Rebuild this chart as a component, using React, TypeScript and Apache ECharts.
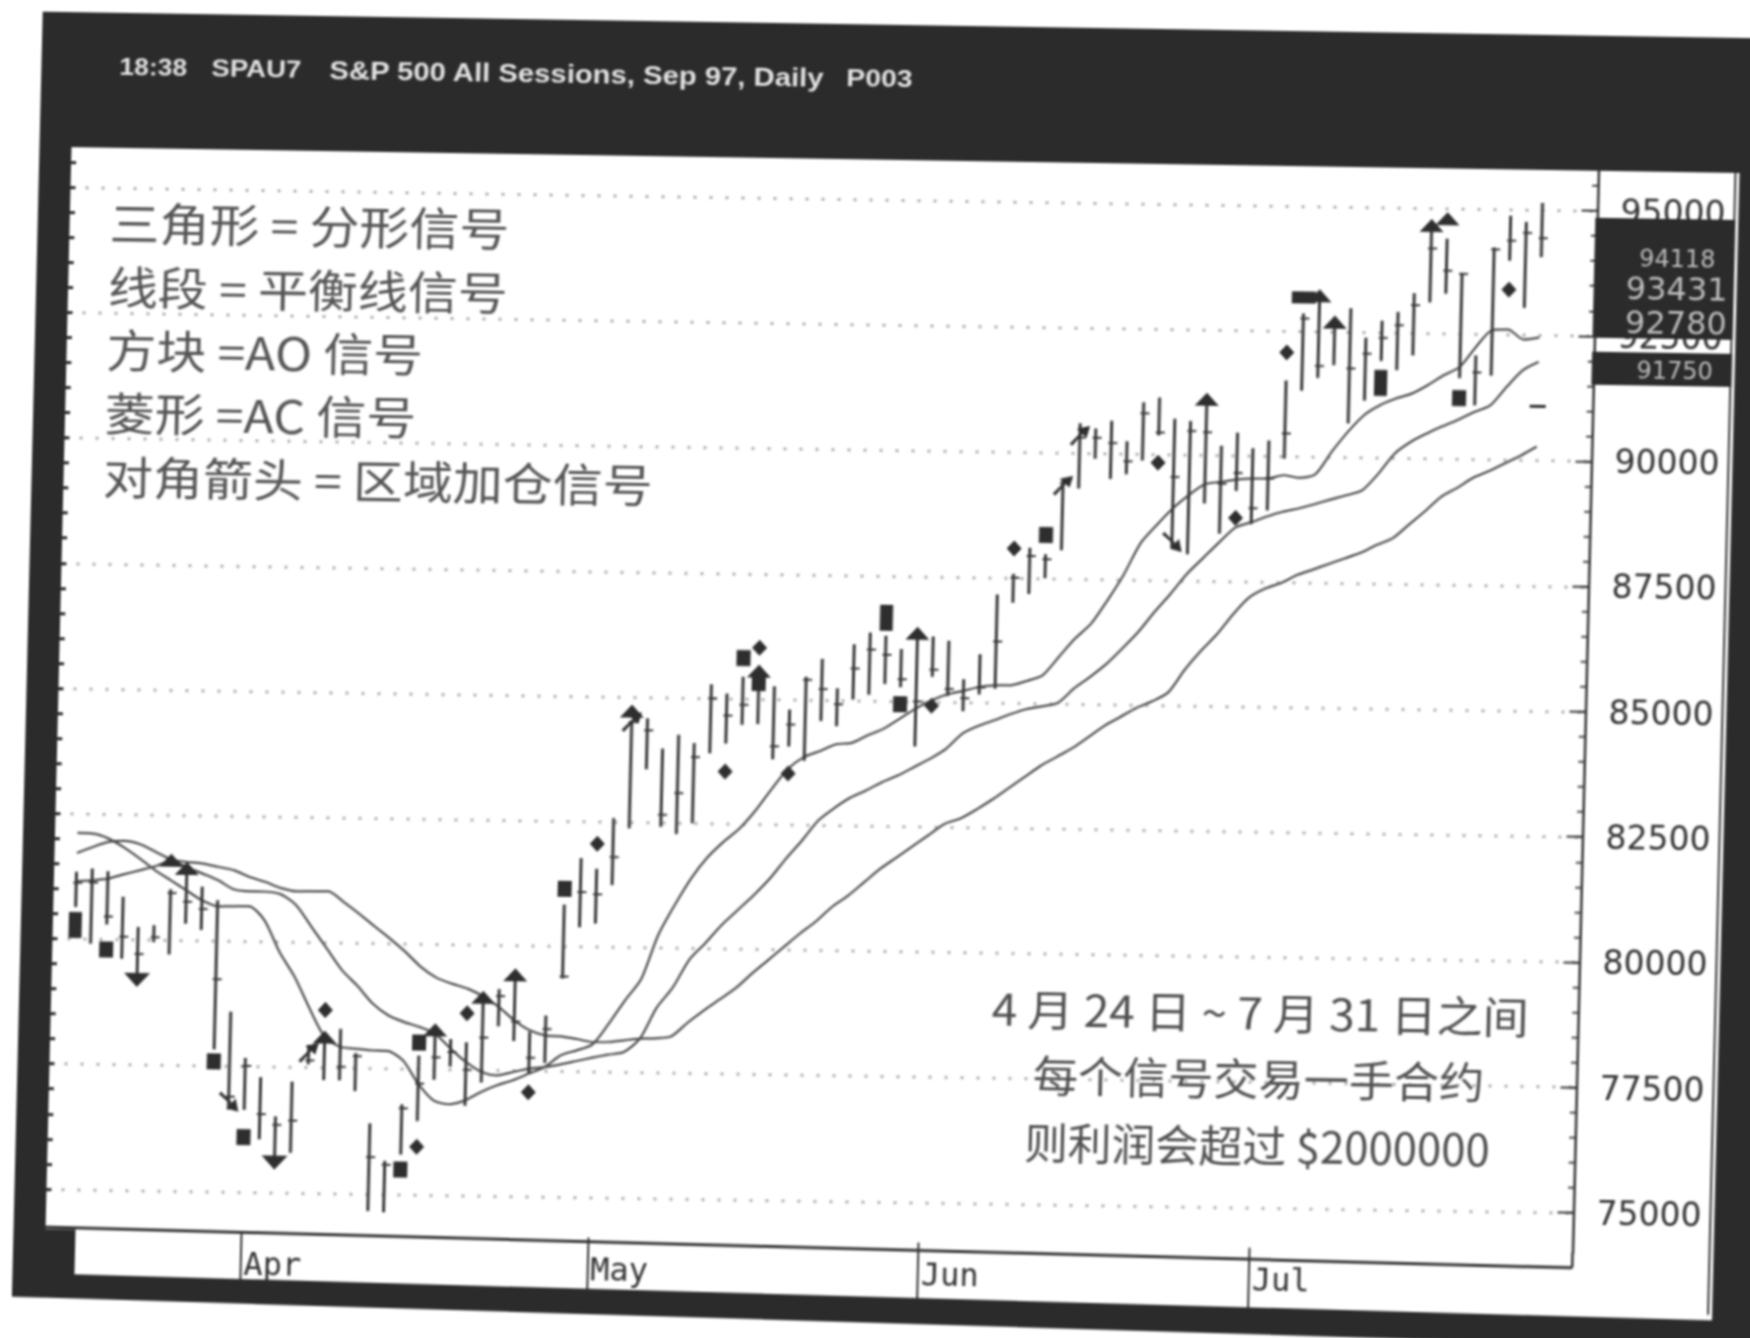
import React, { useEffect, useRef } from "react";
import * as echarts from "echarts";

const categories = [
  "03-12","03-13","03-14","03-17","03-18","03-19","03-20","03-21","03-24","03-25","03-26","03-27","03-31",
  "04-01","04-02","04-03","04-04","04-07","04-08","04-09","04-10","04-11","04-14","04-15","04-16","04-17","04-18","04-21","04-22","04-23","04-24","04-25","04-28","04-29","04-30",
  "05-01","05-02","05-05","05-06","05-07","05-08","05-09","05-12","05-13","05-14","05-15","05-16","05-19","05-20","05-21","05-22","05-23","05-27","05-28","05-29","05-30",
  "06-02","06-03","06-04","06-05","06-06","06-09","06-10","06-11","06-12","06-13","06-16","06-17","06-18","06-19","06-20","06-23","06-24","06-25","06-26","06-27","06-30",
  "07-01","07-02","07-03","07-07","07-08","07-09","07-10","07-11","07-14","07-15","07-16","07-17","07-18","07-21","07-22","07-23","07-24","07-25","07-28","07-29","07-30",
];
const monthStarts: Record<string, string> = { "04-01": "Apr", "05-01": "May", "06-02": "Jun", "07-01": "Jul" };
const priceLabels = [75000, 77500, 80000, 82500, 85000, 87500, 90000, 92500, 95000];
const minorTicks = [
  75000,75500,76000,76500,77000,77500,78000,78500,79000,79500,80000,80500,81000,81500,82000,82500,83000,83500,84000,84500,
  85000,85500,86000,86500,87000,87500,88000,88500,89000,89500,90000,90500,91000,91500,92000,92500,93000,93500,94000,94500,95000,95500,
];

const firstIndex = 2;
const highs = [81340,81410,81360,80860,80260,80300,81020,81440,81080,80820,78600,77680,77300,76520,77220,77960,78140,78290,77810,76410,75670,76800,77780,78330,78120,78060,78970,79130,79380,78290,78620,80840,81770,81560,82580,84520,84580,83980,84260,84100,85280,85100,85440,85420,85260,84800,85460,85820,85240,86120,86360,86300,86040,86300,86300,86220,85460,85960,87160,87580,88100,87980,89460,90600,90500,90660,90260,91040,91140,90720,90680,91100,90200,90460,90160,90320,91520,92860,93160,92640,92980,92400,92740,92920,93300,94700,94400,93720,92080,94240,94880,94760,95140];
const lows = [80640,79910,80300,79620,79320,79960,79720,80340,80220,77840,76640,76640,76060,75690,75800,77570,77260,77260,77050,74660,74640,75800,76470,77300,77570,76790,77260,78390,78100,77460,77670,79360,80390,80470,81240,82380,83560,82420,82280,82500,83900,84100,84480,84500,83800,84060,83780,84580,84480,85020,85120,85340,85280,84100,85500,85120,84820,85160,85280,87000,87180,87500,88060,89300,89900,89500,89600,89880,90380,88140,88020,89040,88440,89300,88640,88920,89960,91320,91580,91840,90680,91140,91940,91760,92060,93120,93300,91620,91080,91680,93980,93040,94060];
const closes = [81120,81130,80460,80060,79720,80060,80950,80780,80640,79240,76900,77520,76560,76350,76440,77650,78080,77530,77750,75740,75590,76720,77220,77750,77860,77510,78160,78990,78490,77770,78350,79400,81090,81050,81800,84500,84340,82660,83100,83820,85000,84660,84880,85320,84060,84500,85400,85220,84920,85640,86020,85920,85440,85000,85640,85260,85080,85300,86220,87500,87940,87880,89400,90320,90320,90220,89860,90820,90440,89560,90480,90460,89440,89660,88960,89560,90460,92760,91820,92600,91780,92080,92400,92660,93060,94200,93760,93700,91740,94200,94380,94540,94440];

const lips = [82116,82108,82013,81837,81623,81395,81200,81006,80811,80697,80702,80707,80431,79804,79310,78683,78122,77928,77898,77869,77861,77680,77219,76890,76816,76900,77072,77210,77315,77453,77590,77828,77932,78057,78475,78945,79383,80255,80859,81396,81820,82138,82409,82779,83216,83620,83858,83983,84121,84153,84310,84448,84653,84857,85029,85153,85225,85309,85347,85352,85444,85562,85933,86304,86607,87078,87600,88221,88592,88930,89201,89424,89476,89527,89552,89557,89629,89581,89659,90110,90514,90852,91056,91194,91298,91470,91674,91845,92250,92587,92605,92410,92455];
const teeth = [81717,81842,81947,81971,81909,81761,81613,81472,81344,81215,81041,81005,81003,80955,80740,80313,79886,79458,79150,78801,78573,78445,78350,78221,77927,77665,77471,77409,77481,77552,77590,77648,77719,77791,77856,77914,78185,78800,79212,79770,80110,80474,80779,81082,81420,81824,82195,82599,82850,83062,83213,83384,83522,83693,83864,84069,84373,84530,84649,84773,84878,84943,85015,85306,85542,85800,86118,86456,86860,87230,87630,87950,88270,88570,88680,88800,88900,88970,89060,89158,89249,89353,89691,90095,90333,90504,90655,90793,90951,91088,91459,91797,91968];
const jaw = [81152,81176,81215,81305,81390,81475,81600,81571,81543,81482,81420,81291,81196,81081,81020,81025,81030,80822,80593,80344,80103,79842,79548,79339,79224,79129,78981,78773,78512,78318,78222,78207,78159,78104,78109,78147,78185,78196,78244,78518,78767,78994,79222,79518,79789,80062,80334,80584,80878,81106,81379,81652,81879,82108,82335,82563,82679,82862,83068,83296,83523,83751,83934,84117,84345,84573,84756,84939,85078,85261,85712,86096,86435,86841,87180,87363,87480,87641,87756,87874,87989,88105,88266,88405,88677,88950,89244,89428,89633,89772,89933,90094,90277];

const aoSquares = [[4,79800],[11,77600],[13,76100],[23,75500],[24,78040],[33,81150],[44,85810],[45,85320],[54,84940],[63,88360],[89,91220]];
const aoTall = [[2,80280],[53,86660],[84,91500]];
const aoWide = [[79,93180]];
const acDiamonds = [[18,78660],[24,75960],[27,78640],[31,77080],[35,82060],[43,83540],[45,86020],[47,83520],[56,84920],[61,88080],[70,89840],[75,88760],[78,92080],[92,93400]];
const fractalUp = [[8,81600],[9,81440],[18,78120],[25,78300],[28,78960],[30,79420],[37,84720],[45,85560],[55,86360],[73,91120],[80,93220],[81,92700],[87,94660],[88,94800]];
const fractalDown = [[6,79200],[15,75600]];
const arrowsUp = [[17,77800],[37,84500],[64,89350],[65,90350]];
const arrowsDown = [[12,76800],[71,88260]];
const strayDash = [[94,91080]];

const legendLines = ["三角形 = 分形信号", "线段 = 平衡线信号", "方块 =AO 信号", "菱形 =AC 信号", "对角箭头 = 区域加仓信号"];
const noteLines = ["4 月 24 日 ~ 7 月 31 日之间", "每个信号交易一手合约", "则利润会超过 $2000000"];
const noteStretch = [1.07, 1.05, 1.015];
const quoteRows = ["94118", "93431", "92780", "91750"];

const INK = "#2e2e2e";
const FRAME = "#2b2b2b";
const ARROW = "path://M0 24 L13 9 L8 4 L24 0 L20 16 L15 11 L3 27Z";

const rect = (x: number, y: number, width: number, height: number, fill: string, z = 100) => ({
  type: "rect", silent: true, z, shape: { x, y, width, height }, style: { fill },
});
const label = (text: string, x: number, y: number, font: string, fill: string, textAlign = "left", scaleX = 1) => ({
  type: "text", silent: true, z: 110, x, y, scaleX,
  style: { text, font, fill, textAlign, textVerticalAlign: "middle", verticalAlign: "middle" },
});

const pairs = (values: number[]) => values.map((v, k) => [k + firstIndex, v]);
const lineSeries = (name: string, values: number[]) => ({
  type: "line", name, data: pairs(values), showSymbol: false, z: 3, smooth: 0.25,
  lineStyle: { color: "#4a4a4a", width: 2.2 },
});
const marks = (data: number[][], symbol: string, symbolSize: any, rotate = 0) => ({
  type: "scatter", data, symbol, symbolSize, symbolRotate: rotate, z: 5,
  itemStyle: { color: INK, opacity: 1 },
});

export default function App() {
  const ref = useRef<HTMLDivElement>(null);
  useEffect(() => {
    document.body.style.margin = "0";
    document.body.style.overflow = "hidden";
    const chart = echarts.init(ref.current!, null, { renderer: "svg" });
    const bars = highs.map((h, k) => [k + firstIndex, h, lows[k], closes[k]]);
    const sharedY = { type: "value", min: 74200, max: 95800, scale: true };
    const titleFont = 'bold 23px "Liberation Sans"';
    chart.setOption({
      animation: false,
      backgroundColor: "#ffffff",
      grid: { left: 58, right: 198, top: 146, bottom: 112, outerBoundsMode: "none", containLabel: false },
      xAxis: {
        type: "category", data: categories, boundaryGap: true,
        axisLine: { show: false },
        axisTick: {
          show: true, alignWithLabel: true, length: 66, lineStyle: { color: "#333", width: 2 },
          interval: (_: number, v: string) => v in monthStarts,
        },
        axisLabel: {
          interval: (_: number, v: string) => v in monthStarts,
          formatter: (v: string) => monthStarts[v] ?? "",
          align: "left", padding: [0, 0, 0, 3], margin: 16, color: "#333",
          fontFamily: "DejaVu Sans Mono", fontSize: 32,
        },
        splitLine: { show: false },
      },
      yAxis: [
        {
          ...sharedY, position: "right",
          axisLine: { show: true, lineStyle: { color: "#333", width: 2.5 } },
          axisTick: { show: true, inside: true, length: 6, customValues: minorTicks, lineStyle: { color: "#444", width: 2 } },
          axisLabel: { show: false },
          splitLine: { show: false },
        },
        {
          ...sharedY, position: "right",
          axisLine: { show: false },
          axisTick: { show: true, inside: true, length: 16, customValues: priceLabels, lineStyle: { color: "#333", width: 2 } },
          axisLabel: {
            show: true, customValues: priceLabels, margin: 23, color: "#333",
            fontFamily: "DejaVu Sans", fontSize: 33, padding: [0, 0, 9, 0],
            formatter: (v: number) => String(v),
          },
          splitLine: { show: true, lineStyle: { color: "#b0b0b0", width: 3, type: [3, 13] } },
        },
        {
          ...sharedY, position: "left", offset: -17,
          axisLine: { show: false },
          axisTick: { show: true, inside: true, length: 5, customValues: minorTicks, lineStyle: { color: FRAME, width: 3 } },
          axisLabel: { show: false },
          splitLine: { show: false },
        },
      ],
      series: [
        lineSeries("lips", lips),
        lineSeries("teeth", teeth),
        lineSeries("jaw", jaw),
        {
          type: "custom", name: "bars", data: bars, z: 4,
          encode: { x: 0, y: [1, 2, 3] },
          renderItem: (_: any, api: any) => {
            const top = api.coord([api.value(0), api.value(1)]);
            const bottom = api.coord([api.value(0), api.value(2)]);
            const close = api.coord([api.value(0), api.value(3)]);
            return {
              type: "group",
              children: [
                { type: "line", shape: { x1: top[0], y1: top[1], x2: bottom[0], y2: bottom[1] }, style: { stroke: "#383838", lineWidth: 3 } },
                { type: "line", shape: { x1: close[0] - 3, y1: close[1], x2: close[0] + 6, y2: close[1] }, style: { stroke: "#383838", lineWidth: 2 } },
              ],
            };
          },
        },
        marks(aoSquares, "rect", [14, 16]),
        marks(aoTall, "rect", [13, 26]),
        marks(aoWide, "rect", [24, 12]),
        marks(acDiamonds, "diamond", [15, 16]),
        marks(fractalUp, "triangle", [24, 13]),
        marks(fractalDown, "triangle", [26, 14], 180),
        marks(arrowsUp, ARROW, 20),
        marks(arrowsDown, ARROW, 20, -90),
        marks(strayDash, "rect", [16, 3]),
      ],
      graphic: {
        elements: [
          { type: "line", silent: true, z: 90, shape: { x1: 75, y1: 1226, x2: 1602, y2: 1243 }, style: { stroke: "#333", lineWidth: 3 } },
          { type: "line", silent: true, z: 90, shape: { x1: 1602, y1: 1228, x2: 1602, y2: 1243 }, style: { stroke: "#333", lineWidth: 2.5 } },
          rect(43, 11, 1760, 135, FRAME),
          rect(43, 11, 32, 1285, FRAME),
          rect(43, 1228, 62, 48, FRAME),
          { type: "polygon", silent: true, z: 100, shape: { points: [[43, 1272], [1800, 1294], [1800, 1322], [43, 1296]] }, style: { fill: FRAME } },
          rect(1743, 11, 60, 1305, FRAME),
          rect(1738, 146, 2, 1142, "#333"),
          rect(1600, 193, 140, 120, FRAME),
          rect(1600, 327, 140, 33, FRAME),
          label("18:38", 121, 65, titleFont, "#e2e2e2", "left", 1.15),
          label("SPAU7", 213, 65, titleFont, "#e2e2e2", "left", 1.2),
          label("S&P 500 All Sessions, Sep 97, Daily", 331, 65, 'bold 25px "Liberation Sans"', "#e2e2e2", "left", 1.17),
          label("P003", 848, 65, titleFont, "#e2e2e2", "left", 1.23),
          ...legendLines.map((t, k) => label(t, 115 - k * 0.1, 220 + k * 63.3, '45px "Noto Sans CJK SC"', "#555", "left", 1.11)),
          ...noteLines.map((t, k) => label(t, 1284, 991 + k * 66.5, '43px "Noto Sans CJK SC"', "#4f4f4f", "center", noteStretch[k])),
          ...quoteRows.map((t, k) =>
            label(t, 1683, [233, 263, 297, 345][k], k === 0 || k === 3 ? '24px "DejaVu Sans"' : '32px "DejaVu Sans"', "#bdbdbd", "center"),
          ),
        ],
      },
    });
    return () => chart.dispose();
  }, []);
  return (
    <div style={{ position: "relative", width: 1750, height: 1338, overflow: "hidden", background: "#fff" }}>
      <div
        ref={ref}
        style={{
          position: "absolute", left: 0, top: 0, width: 1800, height: 1340,
          transformOrigin: "0 0", transform: "matrix(1, 0.0155, -0.024, 1, 0, 0)",
          filter: "blur(0.9px)",
        }}
      />
    </div>
  );
}
